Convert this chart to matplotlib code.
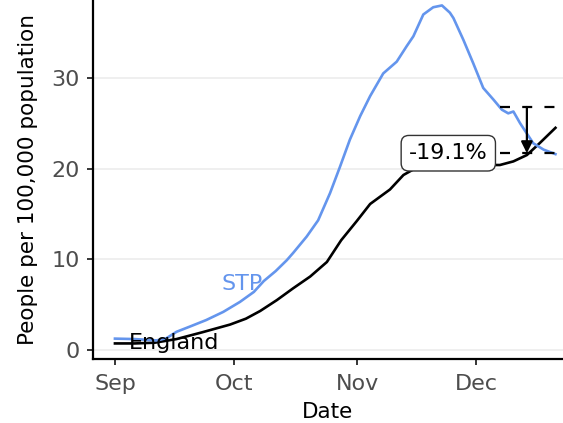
import matplotlib
matplotlib.use('Agg')
import matplotlib.pyplot as plt
import matplotlib.dates as mdates
import pandas as pd

# ── Data (days since 1 Sep 2020, people per 100,000) ─────────────
start = pd.Timestamp('2020-09-01')

eng_days = [0, 5, 10, 15.5, 22, 29, 33, 36.6, 40.8, 44.9, 49.2, 53.4, 57, 60.9,
            64.3, 69.3, 72.7, 78, 84, 89, 93, 97, 100.4, 103.8, 107, 111]
eng_vals = [0.72, 0.72, 0.8, 1.2, 1.95, 2.8, 3.45, 4.3, 5.5, 6.8, 8.1, 9.7, 12.1, 14.2,
            16.1, 17.7, 19.3, 20.6, 21.2, 21.0, 20.4, 20.4, 20.8, 21.5, 22.8, 24.5]

stp_days = [0, 5, 10.5, 13, 15.5, 19, 23, 27.3, 31.5, 35, 37.5, 40.5, 43.3, 44.9, 48.3,
            51.2, 54.2, 56.7, 59.2, 61.8, 64.3, 67.6, 71, 73.5, 75.2, 77.7, 80.2, 82.4,
            84.4, 85.3, 87.8, 90.3, 92.8, 95.4, 97.5, 99.1, 100.4, 102.1, 105.4, 108, 111]
stp_vals = [1.25, 1.2, 1.05, 1.3, 2.0, 2.6, 3.3, 4.2, 5.3, 6.4, 7.6, 8.7, 9.9, 10.7, 12.5,
            14.3, 17.3, 20.2, 23.2, 25.8, 28.0, 30.5, 31.8, 33.5, 34.6, 37.0, 37.8, 38.0,
            37.2, 36.6, 34.2, 31.6, 28.9, 27.6, 26.5, 26.1, 26.3, 25.0, 22.8, 22.1, 21.6]

ref_high = 26.8      # earlier STP level
ref_low = 21.7       # latest STP level
change_label = '-19.1%'

eng_dates = start + pd.to_timedelta(eng_days, unit='D')
stp_dates = start + pd.to_timedelta(stp_days, unit='D')
day = lambda d: start + pd.Timedelta(days=d)

# ── Figure ───────────────────────────────────────────────────────
plt.rcParams['font.family'] = 'DejaVu Sans'
fig = plt.figure(figsize=(5.63, 4.23), dpi=100)
ax = fig.add_axes([0.1647, 0.1506, 0.8353, 0.8494])

blue = '#6495ED'
ax.plot(eng_dates, eng_vals, color='black', lw=1.9, zorder=3)
ax.plot(stp_dates, stp_vals, color=blue, lw=1.9, zorder=4)

# dashed reference levels + arrow
for lvl in (ref_high, ref_low):
    ax.plot([day(97), day(116)], [lvl, lvl], color='black', lw=1.6,
            dashes=(4.5, 5.5), zorder=5)
ax.annotate('', xy=(day(103.8), ref_low), xytext=(day(103.8), ref_high),
            arrowprops=dict(arrowstyle='-|>', color='black', lw=1.6,
                            mutation_scale=17, shrinkA=0, shrinkB=0),
            zorder=6)
ax.text(day(84), ref_low, change_label, ha='center', va='center', fontsize=16,
        zorder=7,
        bbox=dict(boxstyle='round,pad=0.35,rounding_size=0.35', fc='white',
                  ec='#333333', lw=1.0))

# line labels
ax.text(day(3.5), 0.75, 'England', color='black', fontsize=16,
        ha='left', va='center', zorder=6)
ax.text(day(32), 7.3, 'STP', color=blue, fontsize=16,
        ha='center', va='center', zorder=6)

# ── Axes formatting ──────────────────────────────────────────────
ax.set_xlim(day(-5.6), day(112.9))
ax.set_ylim(-1.03, 38.6)
ax.set_yticks([0, 10, 20, 30])
ax.xaxis.set_major_locator(mdates.MonthLocator())
ax.xaxis.set_major_formatter(mdates.DateFormatter('%b'))

ax.grid(axis='y', color='#EBEBEB', lw=1.1, zorder=0)
ax.grid(axis='x', visible=False)
ax.set_axisbelow(True)
ax.spines[['top', 'right']].set_visible(False)
for s in ('left', 'bottom'):
    ax.spines[s].set_linewidth(1.6)
    ax.spines[s].set_color('black')
ax.tick_params(axis='both', length=4.3, width=1.1, color='black',
               labelcolor='#4D4D4D', labelsize=16)
ax.tick_params(axis='y', pad=5)
ax.tick_params(axis='x', pad=6)

ax.set_xlabel('Date', fontsize=15.5, labelpad=6)
ax.set_ylabel('People per 100,000 population', fontsize=15.5, labelpad=10)

fig.savefig('out.png', dpi=100)
